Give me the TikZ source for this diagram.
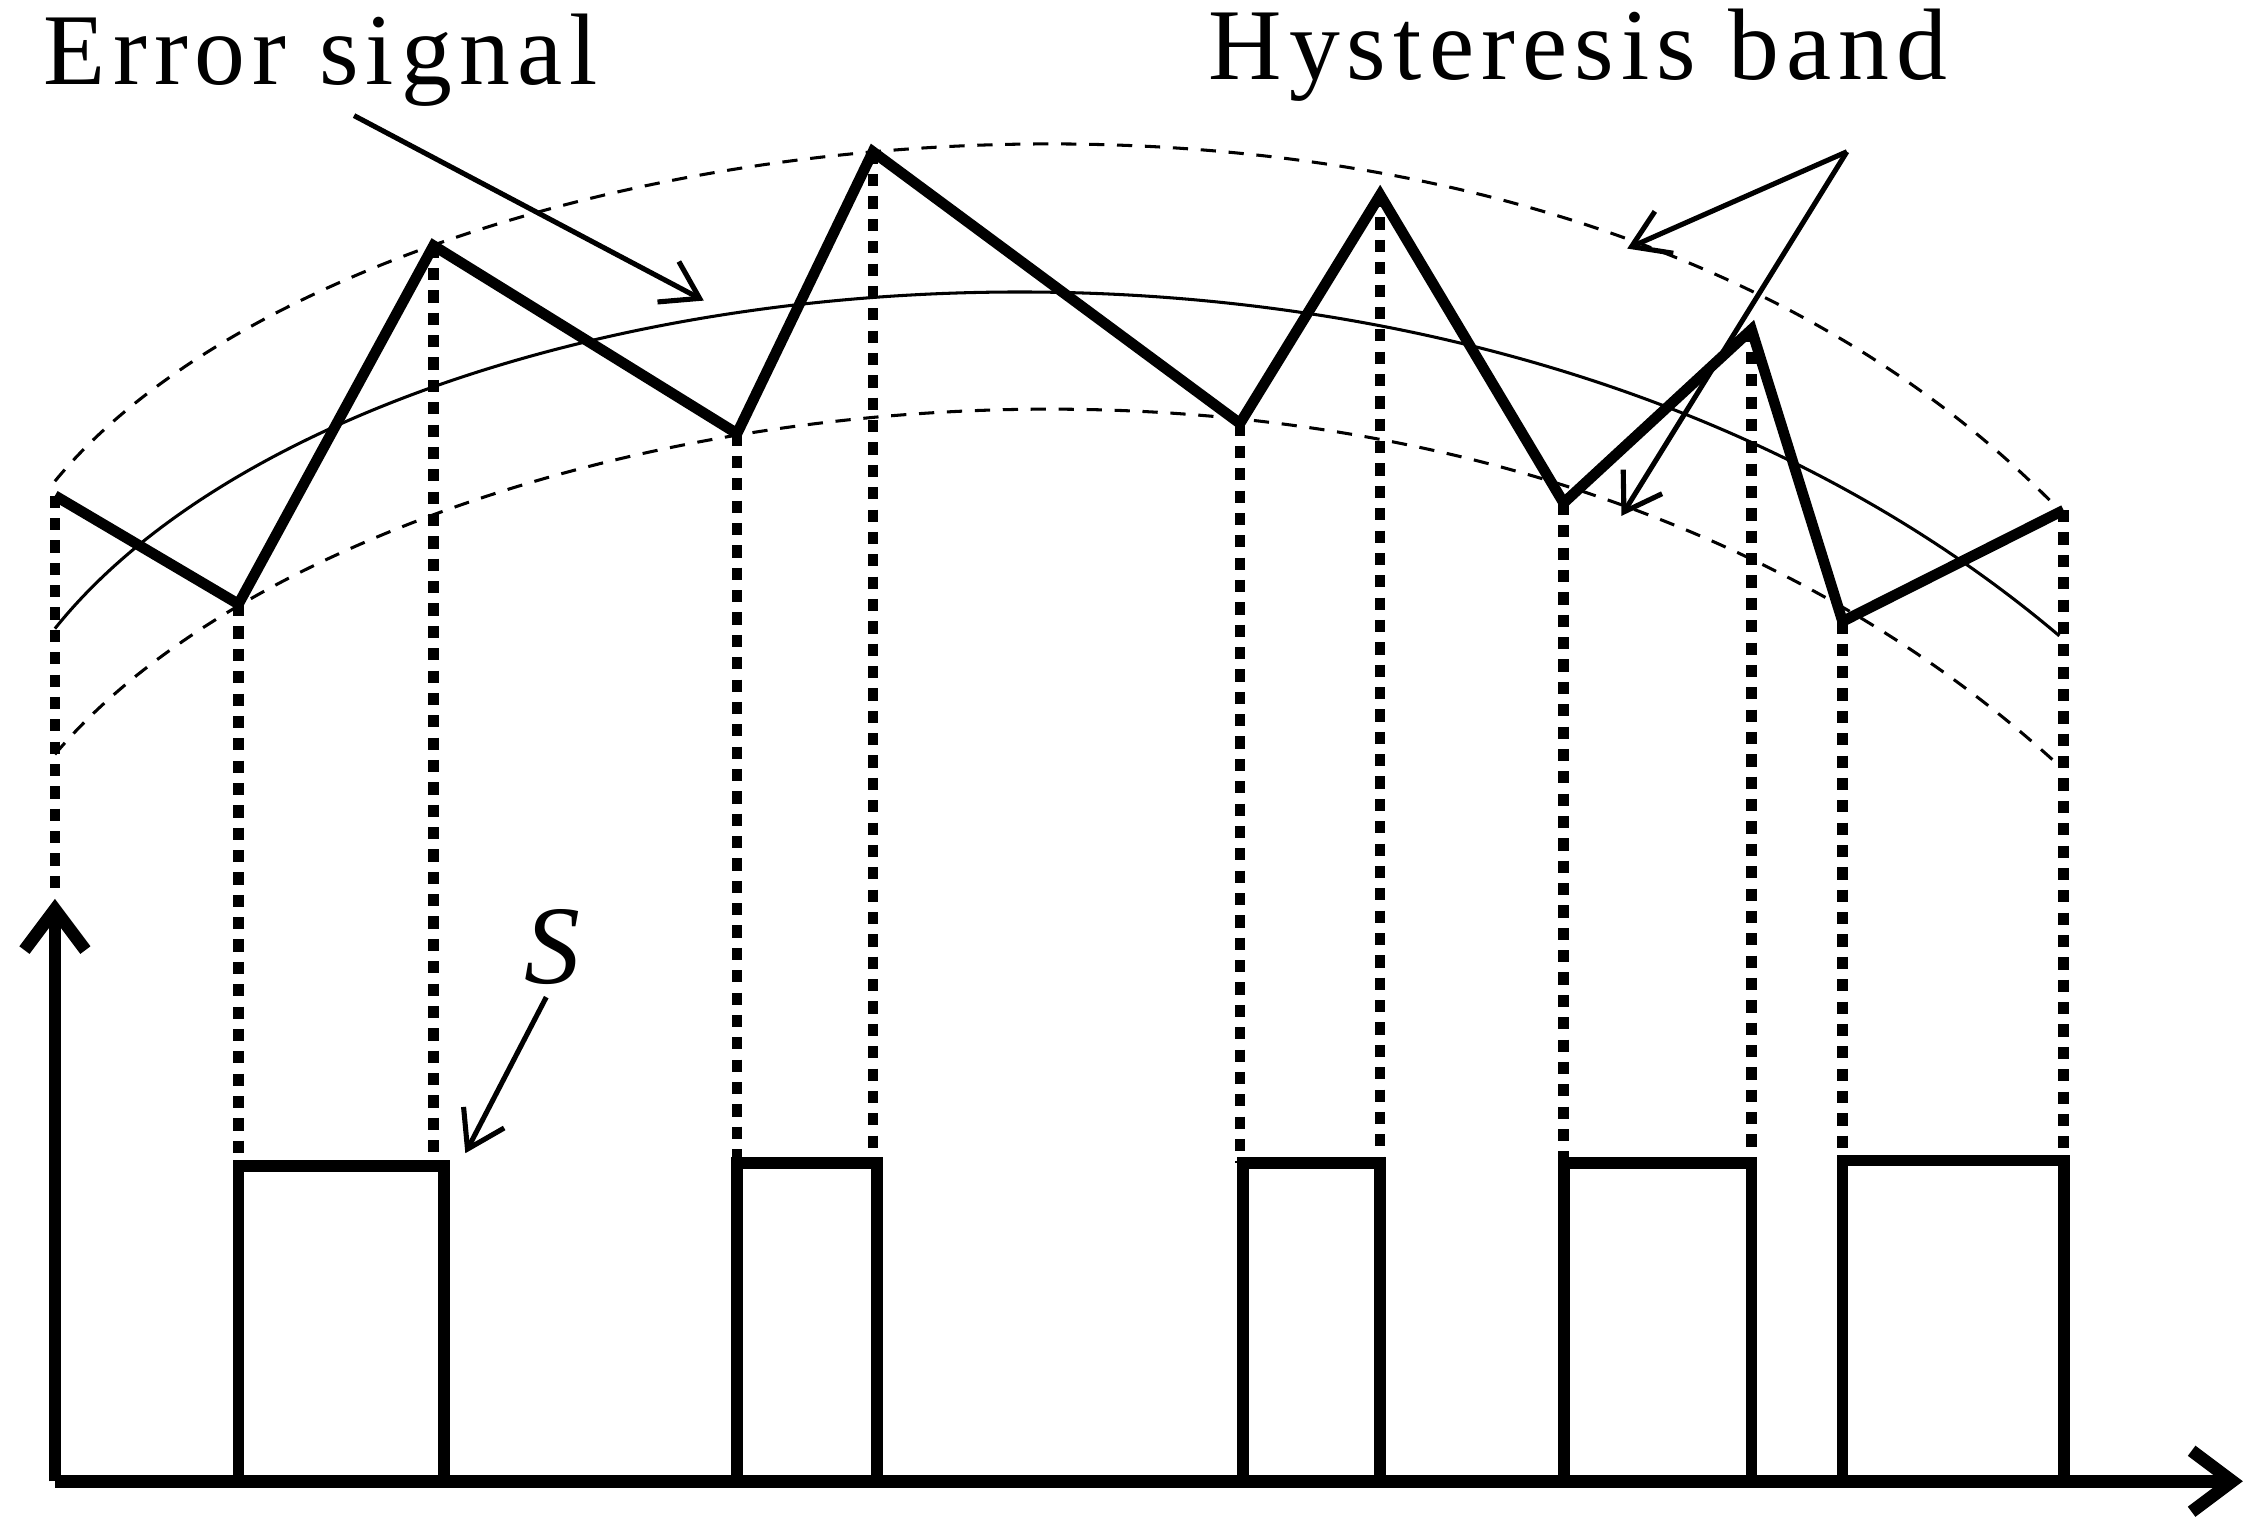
\documentclass[tikz,border=0pt]{standalone}
\usepackage{fontspec}
\setmainfont{Liberation Serif}
\newfontfamily\lblfont[LetterSpace=7]{Liberation Serif}
\usetikzlibrary{arrows.meta}
\begin{document}
\begin{tikzpicture}[x=0.01cm,y=-0.01cm,
  zig/.style={line width=2.1pt,line join=miter},
  dots/.style={line width=2.1pt,dash pattern=on 2.4pt off 2pt},
  pulse/.style={line width=2.3pt},
  band/.style={line width=0.6pt,dash pattern=on 3pt off 2.5pt},
  thin/.style={line width=1pt,-{Straight Barb[length=7pt,width=9pt]}},
  lbl/.style={font=\lblfont\fontsize{20}{24}\selectfont,inner sep=0pt}]
\useasboundingbox (0,0) rectangle (1568,1058);
% band and reference
\draw[band] (38,333) .. controls (250,75) and (1050,-35) .. (1425,353);
\draw[band] (38,522) .. controls (250,270) and (1000,140) .. (1425,530);
\draw[line width=0.6pt] (38,435) .. controls (250,170) and (1000,80) .. (1425,440);
% zigzag points
\foreach \n/\x/\y in {p0/38/343,p1/165/418,p2/300/170,p3/510/300,p4/604/105,p5/858/293,p6/955/135,p7/1082/348,p8/1212/228,p9/1275/430,p10/1428/353}
  \coordinate (\n) at (\x,\y);
% dotted verticals
\draw[dots] (p0) -- (38,620);
\foreach \n/\b in {p1/805,p2/805,p3/805,p4/805,p5/805,p6/805,p7/805,p8/798,p9/800,p10/800}
  \draw[dots] (\n) -- (\n |- 0,\b);
\draw[zig] (p0)--(p1)--(p2)--(p3)--(p4)--(p5)--(p6)--(p7)--(p8)--(p9)--(p10);
% pulses
\draw[pulse] (165,1025) rectangle (307,807);
\draw[pulse] (510,1025) rectangle (607,805);
\draw[pulse] (860,1025) rectangle (955,805);
\draw[pulse] (1082,1025) rectangle (1212,805);
\draw[pulse] (1275,1025) rectangle (1428,803);
% axes
\coordinate (o) at (38,1025);
\coordinate (yt) at (38,622);
\coordinate (xt) at (1552,1025);
\draw[line width=2.5pt,-{Straight Barb[length=8pt,width=12pt]}] (o) -- (yt);
\draw[line width=2.5pt,-{Straight Barb[length=8pt,width=12pt]}] (o) -- (xt);
% labels
\node[lbl] (es) at (222,42) {Error signal};
\node[lbl] (hb) at (1092,38) {Hysteresis band};
\node[inner sep=0pt,font=\fontsize{22}{24}\selectfont\itshape] (s) at (382,655) {S};
\coordinate (e1) at (245,80); \coordinate (e2) at (487,208);
\draw[thin] (e1) -- (e2);
\coordinate (h0) at (1278,105);
\coordinate (h1) at (1126,172); \coordinate (h2) at (1122,357);
\draw[thin] (h0) -- (h1);
\draw[thin] (h0) -- (h2);
\coordinate (s1) at (378,690); \coordinate (s2) at (322,798);
\draw[thin] (s1) -- (s2);
\end{tikzpicture}
\end{document}
